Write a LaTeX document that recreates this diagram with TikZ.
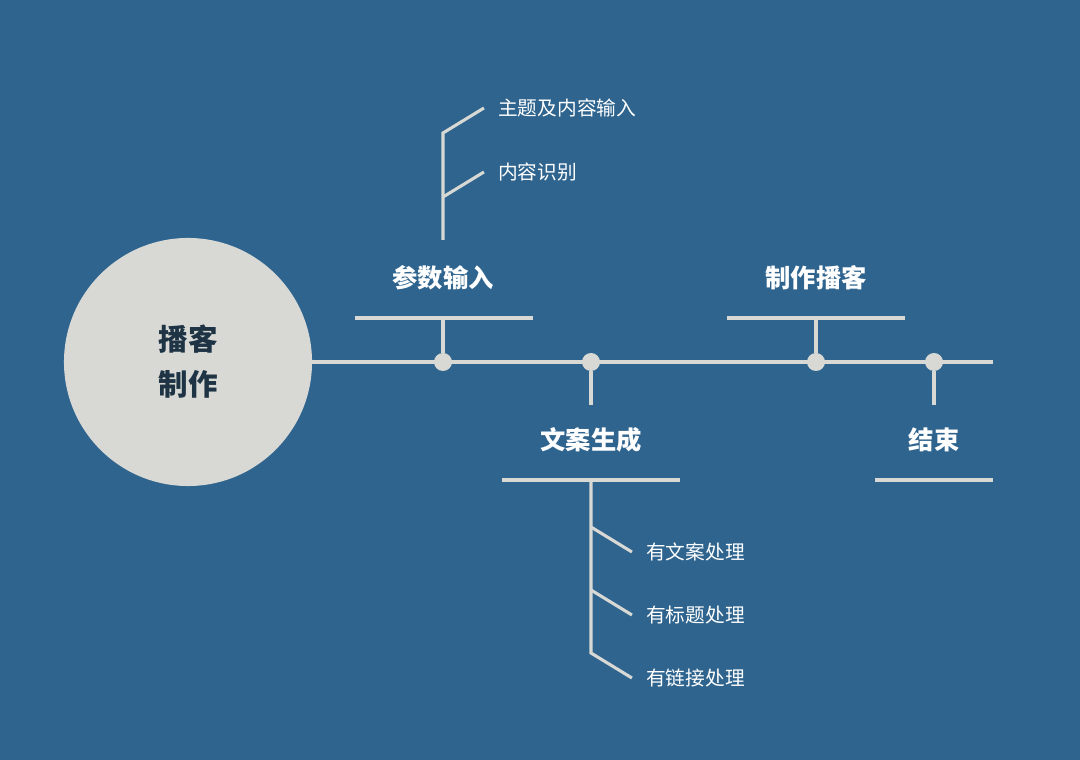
\documentclass[tikz,border=0pt]{standalone}
\usepackage{fontspec}
\setmainfont{Noto Sans CJK SC}
\usetikzlibrary{positioning}
\definecolor{bgblue}{HTML}{2E648E}
\definecolor{pale}{HTML}{D8D9D5}
\definecolor{darkink}{HTML}{1E3445}

\begin{document}
\begin{tikzpicture}[x=0.025cm,y=-0.025cm,
    line/.style={draw=pale,line width=2.2pt},
    dot/.style={circle,fill=pale,inner sep=0pt,minimum size=0.45cm},
    title/.style={text=white,font=\fontsize{18}{20}\selectfont\bfseries},
    sub/.style={text=white,font=\fontsize{14}{16}\selectfont,anchor=west,inner sep=0pt}]
    \fill[bgblue] (0,0) rectangle (1080,760);
    \useasboundingbox (0,0) rectangle (1080,760);

    \node[circle,fill=pale,minimum size=6.2cm,inner sep=0pt,text=darkink,
          font=\fontsize{21}{32}\selectfont\bfseries,align=center] (hub) at (188,362) {播客\\制作};

    \coordinate (end) at (993,362);
    \draw[line] (hub.east) -- (end);

    \node[dot] (d1) at (443,362) {};
    \node[dot] (d2) at (591,362) {};
    \node[dot] (d3) at (816,362) {};
    \node[dot] (d4) at (934,362) {};

    % upper steps
    \coordinate (b1) at (443,318);
    \coordinate (b3) at (816,318);
    \draw[line] (d1) -- (b1) (355,318) -- (533,318);
    \draw[line] (d3) -- (b3) (727,318) -- (905,318);
    \node[title] (n1) at (443,278) {参数输入};
    \node[title] (n3) at (816,278) {制作播客};

    % lower steps
    \coordinate (b2) at (591,405);
    \coordinate (b4) at (934,405);
    \draw[line] (d2) -- (b2) (502,480) -- (680,480);
    \draw[line] (d4) -- (b4) (875,480) -- (993,480);
    \node[title] (n2) at (591,440) {文案生成};
    \node[title] (n4) at (934,440) {结束};

    % details of 参数输入
    \node[sub] (s1) at (498,108) {主题及内容输入};
    \node[sub] (s2) at (498,172) {内容识别};
    \draw[line] (443,240) -- (443,133) -- ([xshift=-10]s1.west);
    \draw[line] (443,197) -- ([xshift=-10]s2.west);

    % details of 文案生成
    \node[sub] (s3) at (646,552) {有文案处理};
    \node[sub] (s4) at (646,615) {有标题处理};
    \node[sub] (s5) at (646,678) {有链接处理};
    \draw[line] (591,480) -- (591,653) -- ([xshift=-10]s5.west);
    \draw[line] (591,527) -- ([xshift=-10]s3.west);
    \draw[line] (591,590) -- ([xshift=-10]s4.west);
\end{tikzpicture}
\end{document}
